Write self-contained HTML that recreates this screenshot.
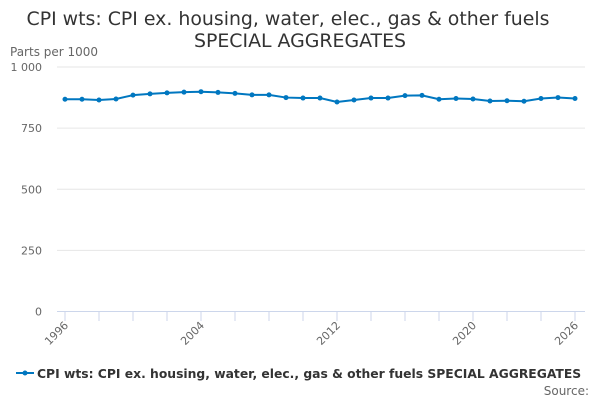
<!DOCTYPE html>
<html><head><meta charset="utf-8"><style>
body{margin:0;background:#fff;font-family:"DejaVu Sans","Liberation Sans",sans-serif;}
svg{display:block}
</style></head><body>
<svg id="chart" width="600" height="400">
<text x="288" y="25" text-anchor="middle" font-size="18.9" fill="#333">CPI wts: CPI ex. housing, water, elec., gas &amp; other fuels</text>
<text x="300" y="47" text-anchor="middle" font-size="18.9" fill="#333">SPECIAL AGGREGATES</text>
<text x="10" y="56" font-size="12" fill="#666">Parts per 1000</text>
<g id="grid"></g><g id="xaxis"></g><g id="series"></g>
<g>
<line x1="16" y1="373" x2="34" y2="373" stroke="#0077c0" stroke-width="2"/>
<circle cx="25" cy="373" r="2.5" fill="#0077c0"/>
<text x="37" y="378" font-size="12.34" font-weight="bold" fill="#333">CPI wts: CPI ex. housing, water, elec., gas &amp; other fuels SPECIAL AGGREGATES</text>
</g>
<text x="589" y="395" text-anchor="end" font-size="12" fill="#666">Source:</text>
</svg>
<script>
const years=[1996,1997,1998,1999,2000,2001,2002,2003,2004,2005,2006,2007,2008,2009,2010,2011,2012,2013,2014,2015,2016,2017,2018,2019,2020,2021,2022,2023,2024,2025,2026];
const values=[868,868,865,869,885,890,894,897,899,896,892,886,886,875,873,873,857,865,873,873,883,884,868,871,869,861,862,860,871,875,871];
const yTicks=[0,250,500,750,1000];
const yTickLabels=["0","250","500","750","1 000"];
const xTickLabels=[1996,2004,2012,2020,2026];
const NS="http://www.w3.org/2000/svg";
const x=v=>65+(v-1996)*17;
const y=v=>311.5-v*0.2445;
function mk(tag,attrs,parent){const e=document.createElementNS(NS,tag);for(const k in attrs)e.setAttribute(k,attrs[k]);parent.appendChild(e);return e;}
const grid=document.getElementById('grid'),xa=document.getElementById('xaxis'),se=document.getElementById('series');
yTicks.forEach((t,i)=>{
 if(t>0){const l=mk('line',{x1:57,x2:585,y1:y(t),y2:y(t),stroke:'#e6e6e6'},grid);
 
 }
 const tx=mk('text',{x:42,y:y(t)+4,'text-anchor':'end','font-size':11,fill:'#666'},grid);
 tx.textContent=yTickLabels[i];
 
 
});
const ax=mk('line',{x1:57,x2:585,y1:311.5,y2:311.5,stroke:'#ccd6eb'},xa);


for(let yr=1996;yr<=2026;yr+=2){const t=mk('line',{x1:x(yr),x2:x(yr),y1:311.5,y2:321,stroke:'#ccd6eb'},xa);
 
 }
xTickLabels.forEach(yr=>{const t=mk('text',{x:x(yr)+4,y:326,'text-anchor':'end','font-size':11,fill:'#666',transform:`rotate(-45 ${x(yr)+4} 326)`},xa);
 t.textContent=yr;
 
 });
const p=mk('polyline',{points:years.map((yr,i)=>x(yr)+','+y(values[i])).join(' '),fill:'none',stroke:'#0077c0','stroke-width':2},se);


years.forEach((yr,i)=>{const c=mk('circle',{cx:x(yr),cy:y(values[i]),r:2.5,fill:'#0077c0'},se);
 
 });
</script>
</body></html>
